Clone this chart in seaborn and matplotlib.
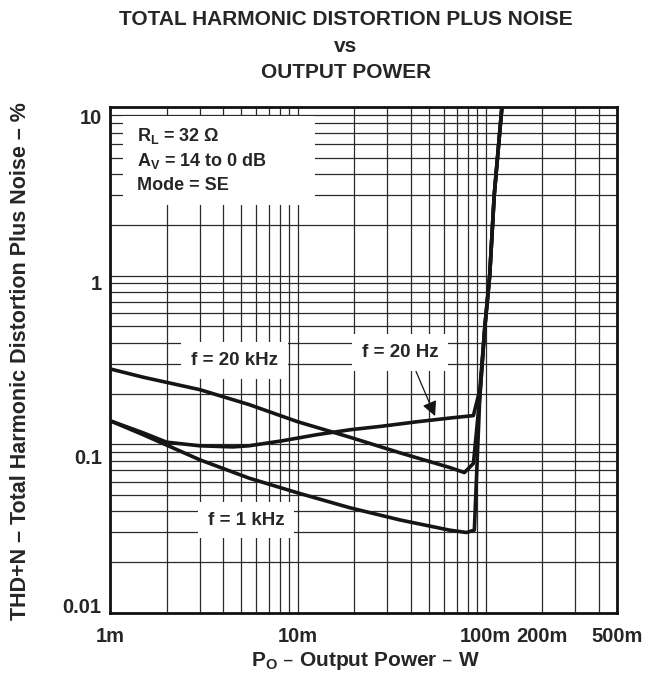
import matplotlib
matplotlib.use("Agg")
import matplotlib.pyplot as plt
import matplotlib.patches as mpatches
import matplotlib.transforms as mtransforms
import seaborn as sns
import pandas as pd
from matplotlib.ticker import FixedLocator, NullFormatter

# output power in W, THD+N in %
p_20khz = [0.001, 0.0015, 0.003, 0.0055, 0.010, 0.019, 0.035, 0.064, 0.077, 0.086,
           0.093, 0.099, 0.105, 0.111, 0.122, 0.130]
thd_20khz = [0.28, 0.25, 0.211, 0.172, 0.136, 0.110, 0.089, 0.073, 0.068, 0.077,
             0.19, 0.5, 1.0, 3.0, 10.0, 16.0]

p_20hz = [0.001, 0.0015, 0.002, 0.003, 0.0045, 0.0055, 0.0083, 0.0126, 0.019, 0.028,
          0.043, 0.064, 0.086, 0.093, 0.099, 0.105, 0.111, 0.122, 0.130]
thd_20hz = [0.138, 0.117, 0.103, 0.098, 0.0965, 0.098, 0.105, 0.114, 0.122, 0.128,
            0.136, 0.143, 0.148, 0.21, 0.5, 1.0, 3.0, 10.0, 16.0]

p_1khz = [0.001, 0.0015, 0.002, 0.003, 0.0055, 0.010, 0.019, 0.035, 0.064, 0.079,
          0.087, 0.093, 0.099, 0.105, 0.111, 0.122, 0.130]
thd_1khz = [0.138, 0.114, 0.099, 0.081, 0.063, 0.0515, 0.042, 0.0356, 0.031, 0.030,
            0.031, 0.19, 0.5, 1.0, 3.0, 10.0, 16.0]

x_ticks = [0.001, 0.01, 0.1, 0.2, 0.5]
x_labels = ["1m", "10m", "100m", "200m", "500m"]
y_ticks = [0.01, 0.1, 1, 10]
y_labels = ["0.01", "0.1", "1", "10"]

sns.set_style("white")
plt.rcParams['font.family'] = ['Liberation Sans', 'DejaVu Sans']
plt.rcParams['font.weight'] = 'bold'

fig = plt.figure(figsize=(6.70, 6.81), dpi=100)
ax = fig.add_axes([0.1642, 0.0999, 0.7567, 0.743])
ax.set_xscale('log')
ax.set_yscale('log')
ax.set_xlim(0.001, 0.5)
ax.set_ylim(0.01, 10)

# log grid at every 1..9 step
minor_x = [m * 10.0 ** e for e in range(-3, 0) for m in range(1, 10) if m * 10.0 ** e <= 0.5]
minor_y = [m * 10.0 ** e for e in range(-2, 1) for m in range(1, 10)]
ax.xaxis.set_minor_locator(FixedLocator(minor_x))
ax.yaxis.set_minor_locator(FixedLocator(minor_y))
ax.xaxis.set_minor_formatter(NullFormatter())
ax.yaxis.set_minor_formatter(NullFormatter())
ax.set_xticks(x_ticks)
ax.set_xticklabels(x_labels)
ax.set_yticks(y_ticks)
ax.set_yticklabels(y_labels)
ax.grid(which='both', color='#2a2a2a', linewidth=0.9)
ax.set_axisbelow(True)
ax.tick_params(which='both', length=0, labelsize=14.5)
ax.tick_params(axis='x', pad=10)
ax.tick_params(axis='y', pad=6)
for lab in ax.get_xticklabels() + ax.get_yticklabels():
    lab.set_fontweight('bold')
# the datasheet prints the y labels a little inside each decade line
for lab, dy in zip(ax.get_yticklabels(), [7, -12, -7, -10]):
    lab.set_transform(lab.get_transform() +
                      mtransforms.ScaledTranslation(0, dy / 100, fig.dpi_scale_trans))
for sp in ax.spines.values():
    sp.set_linewidth(2.0)
    sp.set_color('#111111')

for p, t in [(p_20khz, thd_20khz), (p_20hz, thd_20hz), (p_1khz, thd_1khz)]:
    df = pd.DataFrame({'P': p, 'THD': t})
    sns.lineplot(data=df, x='P', y='THD', ax=ax, color='#151515', linewidth=2.6,
                 sort=False, estimator=None, zorder=4)

ax.set_xlabel('')
ax.set_ylabel('')

# condition box
ax.add_patch(mpatches.Rectangle((0.0256, 0.806), 0.378, 0.176, transform=ax.transAxes,
                                facecolor='white', edgecolor='none', zorder=3))
cond = ["R$_\\mathregular{L}$ = 32 Ω", "A$_\\mathregular{V}$ = 14 to 0 dB", "Mode = SE"]
for i, s in enumerate(cond):
    ax.text(0.053, 0.943 - i * 0.049, s, transform=ax.transAxes, fontsize=13,
            fontweight='bold', va='center', ha='left', zorder=5)

box = dict(facecolor='white', edgecolor='none', pad=7)
ax.text(0.0046, 0.315, 'f = 20 kHz', fontsize=13.5, fontweight='bold', ha='center',
        va='center', bbox=box, zorder=5)
ax.text(0.035, 0.35, 'f = 20 Hz', fontsize=13.5, fontweight='bold', ha='center',
        va='center', bbox=box, zorder=5)
ax.text(0.0053, 0.0355, 'f = 1 kHz', fontsize=13.5, fontweight='bold', ha='center',
        va='center', bbox=box, zorder=5)
ax.annotate('', xy=(0.0545, 0.142), xytext=(0.042, 0.28),
            arrowprops=dict(arrowstyle='-|>', color='#151515', lw=0.9,
                            mutation_scale=22), zorder=5)

fig.text(0.516, 0.972, 'TOTAL HARMONIC DISTORTION PLUS NOISE', ha='center', va='center',
         fontsize=15, fontweight='bold')
fig.text(0.516, 0.931, 'vs', ha='center', va='center', fontsize=15, fontweight='bold')
fig.text(0.516, 0.893, 'OUTPUT POWER', ha='center', va='center', fontsize=15,
         fontweight='bold')
fig.text(0.545, 0.030, 'P$_\\mathregular{O}$ – Output Power – W', ha='center', va='center',
         fontsize=15, fontweight='bold')
fig.text(0.030, 0.47, 'THD+N – Total Harmonic Distortion Plus Noise – %', ha='center',
         va='center', rotation=90, fontsize=15.5, fontweight='bold')

fig.savefig('out.png', dpi=100)
